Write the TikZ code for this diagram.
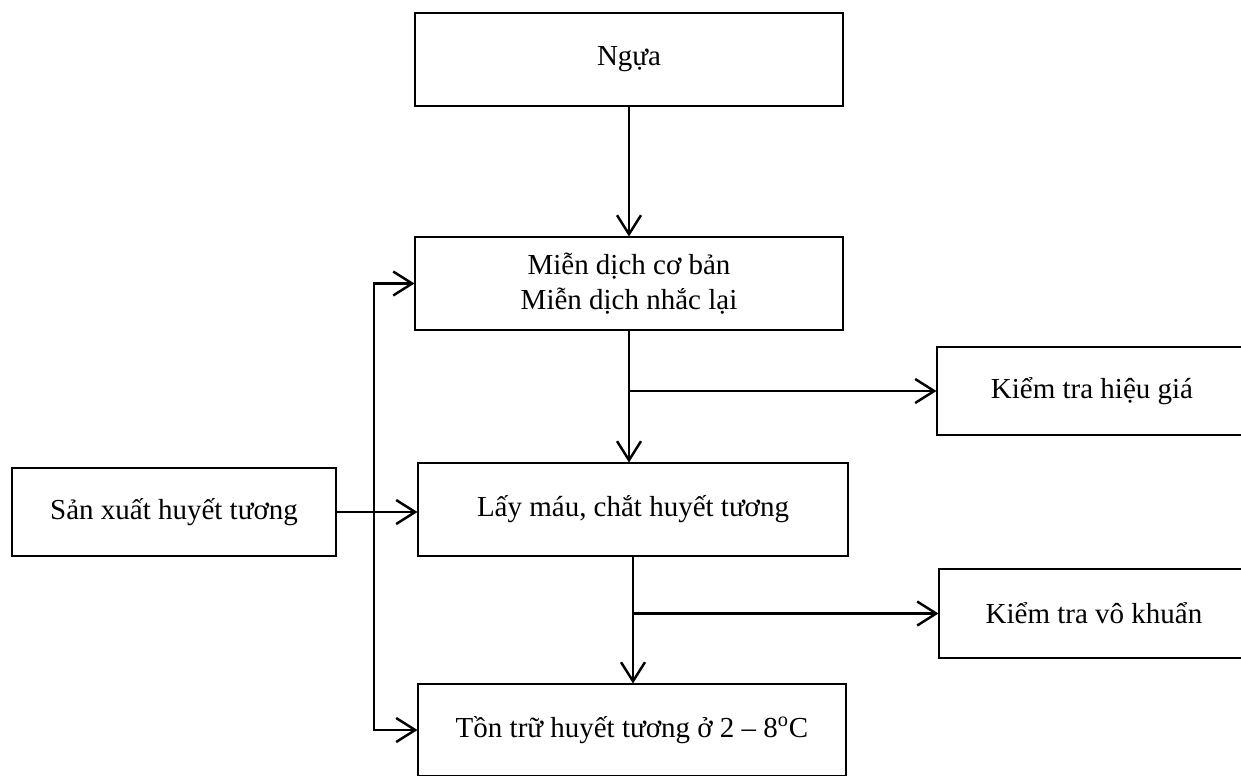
\documentclass[tikz,border=0pt]{standalone}
\usepackage{fontspec}
\setmainfont{Liberation Serif}
\usepackage{tikz}
\usetikzlibrary{arrows}
\usetikzlibrary{arrows.meta}
\tikzset{>={Straight Barb[width=4.8mm,length=3.8mm,line width=1.4pt]}}
\tikzset{hop/.style={draw, line width=0.6pt, align=center, inner sep=0pt, font=\fontsize{16.5}{20}\selectfont}}
\tikzset{muiten/.style={->, line width=1.4pt}}

\begin{document}
\begin{tikzpicture}[x=0.02cm, y=-0.02cm]
		\clip (0,0) rectangle (1241,775);
		\begin{scope}
			%cac hop chinh
			\node [hop, minimum width=428*0.02cm, minimum height=93*0.02cm] at (629,59.5) (ngua) {Ngựa};
			\node [hop, minimum width=428*0.02cm, minimum height=93*0.02cm] at (629,283.5) (miendich) {Miễn dịch cơ bản\\Miễn dịch nhắc lại};
			\node [hop, minimum width=430*0.02cm, minimum height=93*0.02cm] at (633,509.5) (laymau) {Lấy máu, chắt huyết tương};
			\node [hop, minimum width=428*0.02cm, minimum height=92*0.02cm] at (632,730) (tontru) {Tồn trữ huyết tương ở 2 – 8\textsuperscript{o}C};
			%hop ben trai
			\node [hop, minimum width=324*0.02cm, minimum height=88*0.02cm] at (174,512) (sanxuat) {Sản xuất huyết tương};
			%hop kiem tra ben phai
			\node [hop, minimum width=310*0.02cm, minimum height=88*0.02cm] at (1092,391) (hieugia) {Kiểm tra hiệu giá};
			\node [hop, minimum width=310*0.02cm, minimum height=89*0.02cm] at (1094,613.5) (vokhuan) {Kiểm tra vô khuẩn};
			%truc dung ben trai
			\coordinate (truc) at (374,500);
			\begin{scope}
				%mui ten doc
				\draw [muiten] (ngua.south) -- (miendich.north);
				\draw [muiten] (miendich.south) -- (miendich.south |- laymau.north);
				\draw [muiten] (laymau.south) -- (laymau.south |- tontru.north);
				%nhanh sang kiem tra
				\draw [muiten] (miendich.south |- hieugia.west) -- (hieugia.west);
				\draw [muiten] (laymau.south |- vokhuan.west) -- (vokhuan.west);
				%san xuat huyet tuong
				\draw [muiten] (sanxuat.east) -- (sanxuat.east -| laymau.west);
				%truc trai
				\draw [muiten, <->] (miendich.west) -| (truc) |- (tontru.west);
			\end{scope}
		\end{scope}
		%
	\end{tikzpicture}
\end{document}
